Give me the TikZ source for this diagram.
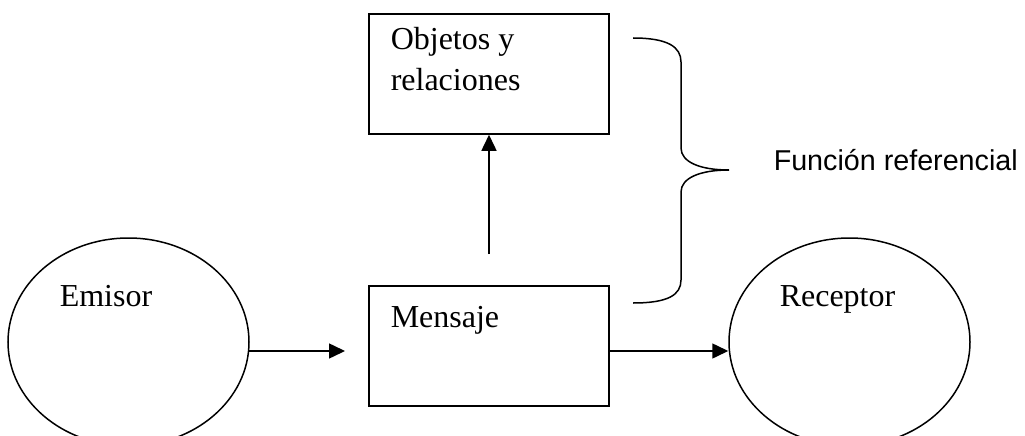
\documentclass[tikz,border=0pt]{standalone}
\usepackage{fontspec}
\usepackage{graphicx}
\setmainfont{Liberation Serif}
\newfontfamily\arialfont{Liberation Sans}
\usetikzlibrary{shapes.geometric,arrows.meta,calc}
\tikzset{
  every path/.style={line width=1.5pt},
  boxnode/.style={draw,rectangle,minimum width=240pt,minimum height=120pt,inner sep=0pt},
  ovalnode/.style={draw,ellipse,minimum width=241pt,minimum height=208pt,inner sep=0pt},
  serif/.style={font=\fontsize{32}{36}\selectfont,inner sep=0pt,anchor=base west,align=left},
  arr/.style={-{Triangle[length=16pt,width=15pt]}}
}
\begin{document}
\begin{tikzpicture}[x=1pt,y=-1pt]
\useasboundingbox (0,0) rectangle (1025,436);
% boxes
\node[boxnode] (obj) at (489,74) {};
\node[boxnode] (msg) at (489,346) {};
\node[serif] (objt) at (390,50) {Objetos y};
\node[serif] (objt2) at (390,90) {relaciones};
\node[serif] (msgt) at (390,327) {Mensaje};
% ellipses
\node[ovalnode] (emi) at (128.5,342) {};
\node[ovalnode] (rec) at (849.5,342) {};
\node[serif] (emit) at (59,306) {Emisor};
\node[serif] (rect) at (779,306) {Receptor};
% connectors
\coordinate (a1s) at ($(emi.east)+(-0.5,9)$);
\coordinate (a1e) at (345,351);
\draw[arr] (a1s) -- (a1e);
\coordinate (up) at (489,254);
\draw[arr] (up) -- (obj.south);
\coordinate (a3s) at (msg.east |- a1e);
\coordinate (a3e) at ($(rec.west)+(0,9)$);
\draw[arr] (a3s) -- (a3e);
% brace
\draw (633,38) .. controls (668,38) and (681,47) .. (681,62)
  -- (681,148) .. controls (681,162) and (700,170) .. (729,170)
  .. controls (700,170) and (681,178) .. (681,192)
  -- (681,280) .. controls (681,295) and (668,303) .. (633,303);
\node[inner sep=0pt,anchor=base west] (fref) at (773,170) {\resizebox{244pt}{\height}{\arialfont\fontsize{28.7}{32}\selectfont Función referencial}};
\end{tikzpicture}
\end{document}
